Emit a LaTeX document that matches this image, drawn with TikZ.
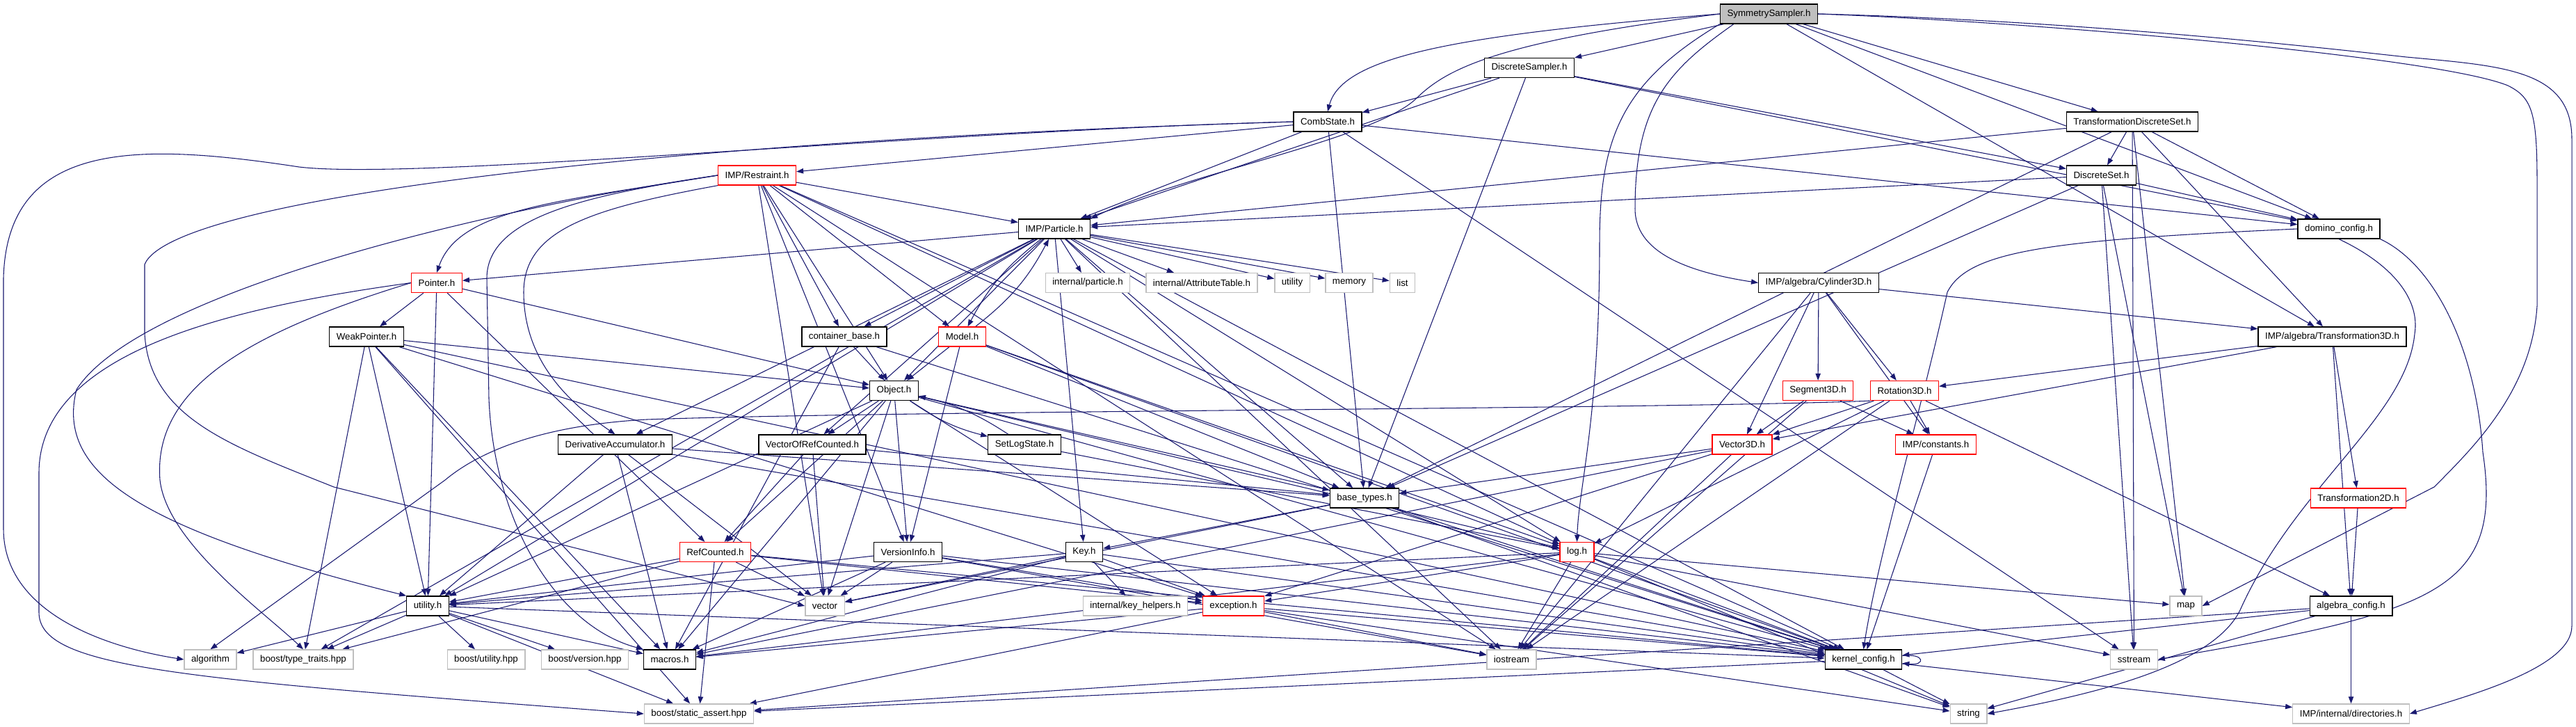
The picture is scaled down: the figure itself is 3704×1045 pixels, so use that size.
\documentclass[tikz,border=0pt]{standalone}
\usepackage{fontspec}
\setmainfont{Liberation Sans}
\usetikzlibrary{arrows.meta}
\definecolor{edgec}{HTML}{191970}
\definecolor{grayb}{HTML}{BFBFBF}
\pgfdeclarelayer{bg}
\pgfsetlayers{bg,main}
\begin{document}
\begin{tikzpicture}[x=0.75pt,y=-0.75pt,
  nd/.style={draw=black,line width=1pt,fill=white,inner xsep=7.5pt,inner ysep=0pt,minimum height=21pt,font=\fontsize{10}{12}\selectfont},
  rd/.style={nd,draw=red},
  gd/.style={nd,draw=grayb},
  e/.style={draw=edgec,line width=0.8pt,-{Triangle[length=7.5pt,width=5.5pt]}},
]
\useasboundingbox (0,0) rectangle (3704,1045);
% nodes
\node[nd,fill=grayb] (SS) at (2543.5,20) {SymmetrySampler.h};
\node[nd] (DSa) at (2199,97.5) {DiscreteSampler.h};
\node[nd] (CS) at (1909,175) {CombState.h};
\node[nd] (TDS) at (3066,175) {TransformationDiscreteSet.h};
\node[rd] (Res) at (1088.5,252) {IMP/Restraint.h};
\node[nd] (DSe) at (3021.5,252) {DiscreteSet.h};
\node[nd] (Par) at (1516,329) {IMP/Particle.h};
\node[nd] (dcfg) at (3363,329) {domino\_config.h};
\node[rd] (Ptr) at (628,406.5) {Pointer.h};
\node[gd] (ipart) at (1564,406.5) {internal/particle.h};
\node[gd] (iattr) at (1728,406.5) {internal/AttributeTable.h};
\node[gd] (stdutil) at (1858,406.5) {utility};
\node[gd] (mem) at (1940,406.5) {memory};
\node[gd] (lst) at (2016.5,406.5) {list};
\node[nd] (Cyl) at (2615,406.5) {IMP/algebra/Cylinder3D.h};
\node[nd] (WPtr) at (527,484) {WeakPointer.h};
\node[nd] (cont) at (1214,484) {container\_base.h};
\node[rd] (Model) at (1383.5,484) {Model.h};
\node[nd] (T3D) at (3353.5,484) {IMP/algebra/Transformation3D.h};
\node[nd] (Obj) at (1285.5,561.5) {Object.h};
\node[rd] (Seg) at (2614,561.5) {Segment3D.h};
\node[rd] (Rot) at (2738.5,561.5) {Rotation3D.h};
\node[nd] (DA) at (884.5,639) {DerivativeAccumulator.h};
\node[nd] (VoRC) at (1168,639) {VectorOfRefCounted.h};
\node[nd] (SLS) at (1473,639) {SetLogState.h};
\node[rd] (V3D) at (2505,639) {Vector3D.h};
\node[rd] (cst) at (2783.5,639) {IMP/constants.h};
\node[nd] (bt) at (1962,716) {base\_types.h};
\node[rd] (T2D) at (3391,716) {Transformation2D.h};
\node[rd] (RC) at (1028.5,793.5) {RefCounted.h};
\node[nd] (VI) at (1305.5,793.5) {VersionInfo.h};
\node[nd] (Key) at (1559,793.5) {Key.h};
\node[rd] (log) at (2267.5,793.5) {log.h};
\node[nd] (util) at (615,871) {utility.h};
\node[gd] (vec) at (1186,871) {vector};
\node[gd] (kh) at (1632.5,871) {internal/key\_helpers.h};
\node[rd] (exc) at (1773.5,871) {exception.h};
\node[gd] (map) at (3143,871) {map};
\node[nd] (acfg) at (3380.5,871) {algebra\_config.h};
\node[gd] (algo) at (302.5,948) {algorithm};
\node[gd] (btt) at (436,948) {boost/type\_traits.hpp};
\node[gd] (butil) at (699,948) {boost/utility.hpp};
\node[gd] (bver) at (841,948) {boost/version.hpp};
\node[nd] (mac) at (963,948) {macros.h};
\node[gd] (ios) at (2173.5,948) {iostream};
\node[nd] (kcfg) at (2679.5,948) {kernel\_config.h};
\node[gd] (sst) at (3068.5,948) {sstream};
\node[gd] (bsa) at (1005,1026) {boost/static\_assert.hpp};
\node[gd] (str) at (2830.5,1026) {string};
\node[gd] (dirs) at (3380.5,1026) {IMP/internal/directories.h};
\begin{pgfonlayer}{bg}
\fill[white] (0,0) rectangle (3704,1045);
\foreach \a/\b in {SS/DSa, SS/dcfg, SS/TDS, SS/T3D,
  DSa/CS, DSa/Par, DSa/bt, DSa/DSe, DSa/dcfg,
  CS/Res, CS/Par, CS/bt, CS/dcfg, CS/sst,
  TDS/DSe, TDS/dcfg, TDS/Par, TDS/bt, TDS/map, TDS/sst, TDS/T3D,
  DSe/dcfg, DSe/Par, DSe/bt, DSe/map, DSe/sst,
  Res/Par, Res/Model, Res/cont, Res/Obj, Res/VI, Res/log, Res/kcfg, Res/ios, Res/vec,
  Par/ipart, Par/iattr, Par/stdutil, Par/mem, Par/lst, Par/cont, Par/Obj, Par/VoRC, Par/DA, Par/Ptr, Par/bt, Par/Key, Par/log, Par/ios, Par/kcfg, Par/util, Par/btt,
  Model/Obj, Model/bt, Model/log, Model/kcfg, Model/VI,
  cont/Obj, cont/mac, cont/kcfg,
  Obj/RC, Obj/VoRC, Obj/VI, Obj/exc, Obj/log, Obj/mac, Obj/kcfg, Obj/vec, Obj/util, Obj/bt,
  SLS/log,
  Ptr/WPtr, Ptr/Obj, Ptr/RC, Ptr/util,
  WPtr/Obj, WPtr/util, WPtr/btt, WPtr/bsa, WPtr/mac, WPtr/exc, WPtr/kcfg,
  DA/util, DA/mac, DA/vec, DA/kcfg, DA/bt,
  VoRC/RC, VoRC/vec, VoRC/bt,
  RC/exc, RC/vec, RC/util, RC/btt, RC/bsa, RC/kcfg,
  VI/util, VI/vec, VI/mac, VI/exc, VI/kcfg, VI/ios,
  Key/kh, Key/exc, Key/vec, Key/util, Key/mac, Key/kcfg,
  bt/Key, bt/vec, bt/kcfg, bt/str,
  log/exc, log/mac, log/ios, log/kcfg, log/str, log/sst, log/map, log/util,
  exc/mac, exc/bsa, exc/kcfg, exc/ios, exc/str,
  util/algo, util/btt, util/butil, util/bver, util/mac, util/kcfg, util/bsa,
  kcfg/bsa, kcfg/str, kcfg/dirs,
  acfg/kcfg, acfg/bsa, acfg/str, acfg/dirs,
  Cyl/V3D, Cyl/Seg, Cyl/Rot, Cyl/cst, Cyl/T3D, Cyl/ios,
  Seg/V3D, Seg/cst, Seg/ios,
  Rot/V3D, Rot/cst, Rot/log, Rot/ios, Rot/acfg,
  V3D/bt, V3D/ios, V3D/exc, V3D/mac,
  cst/kcfg,
  T3D/Rot, T3D/V3D, T3D/T2D, T3D/acfg,
  T2D/acfg}
  \draw[e] (\a) -- (\b);
% curved edges
\draw[e] (SS.west) .. controls (2100,50) and (1930,80) .. (CS.north);
\draw[e] (SS.west) .. controls (2150,60) and (2080,100) .. (2038,140) .. controls (1980,200) and (1700,250) .. (Par.north east);
\draw[e] (SS.south west) .. controls (2330,120) and (2300,200) .. (2300,350) .. controls (2300,600) and (2270,700) .. (log.north);
\draw[e] ([xshift=15pt]SS.south west) .. controls (2400,100) and (2351,150) .. (2351,300) .. controls (2351,360) and (2420,390) .. (Cyl.west);
\draw[e] (SS.east) .. controls (2900,30) and (3500,80) .. (3606,123) .. controls (3640,140) and (3648,160) .. (3648,260) -- (3648,440) .. controls (3640,560) and (3560,640) .. (3500,700) -- (map.east);
\draw[e] (SS.east) .. controls (3000,30) and (3350,70) .. (3460,82) .. controls (3600,95) and (3698,100) .. (3698,200) -- (3698,900) .. controls (3698,960) and (3550,1000) .. (dirs.east);
\draw[e] (CS.west) .. controls (1300,190) and (600,260) .. (430,240) .. controls (200,205) and (10,200) .. (5,400) -- (5,760) .. controls (5,880) and (150,930) .. (algo.west);
\draw[e] (CS.west) .. controls (1000,200) and (250,280) .. (208,380) -- (208,480) .. controls (215,600) and (330,640) .. (480,700) -- (vec.west);
\draw[e] (Res.west) .. controls (700,300) and (200,420) .. (110,560) .. controls (80,680) and (200,760) .. (util.north west);
\draw[e] (Res.west) .. controls (800,290) and (660,300) .. (Ptr.north);
\draw[e] (Res.south west) .. controls (850,300) and (753,330) .. (753,420) .. controls (753,520) and (820,580) .. (DA.north);
\draw[e] (Res.west) .. controls (850,280) and (700,310) .. (700,400) -- (703,573) .. controls (710,750) and (800,900) .. (mac.north west);
\draw[e] (Ptr.west) .. controls (350,440) and (56,500) .. (56,680) -- (56,880) .. controls (56,960) and (250,975) .. (bsa.west);
\draw[e] (Ptr.west) .. controls (350,480) and (220,560) .. (230,690) .. controls (240,780) and (380,880) .. (btt.north);
\draw[e] (Rot.south west) .. controls (2400,588) and (1300,590) .. (930,603) .. controls (800,610) and (700,640) .. (640,690) -- (algo.north);
\draw[e] (dcfg.west) .. controls (2950,345) and (2830,360) .. (2800,420) .. controls (2760,600) and (2700,800) .. (kcfg.north);
\draw[e] (dcfg.south east) .. controls (3500,380) and (3560,500) .. (3570,650) .. controls (3600,850) and (3500,880) .. (sst.east);
\draw[e] (dcfg.south) .. controls (3440,380) and (3480,430) .. (3472,480) .. controls (3460,600) and (3300,700) .. (3221,877) .. controls (3180,960) and (3000,1000) .. (str.east);
\draw[e] (Par) to[bend right=12] (Model);
\draw[e] (Model) to[bend right=12] (Par);
\draw[e] (Obj) to[bend right=10] (SLS);
\draw[e] (SLS) to[bend right=10] (Obj);
\draw[e] ([yshift=4pt]kcfg.east) .. controls +(25pt,3pt) and +(25pt,-3pt) .. ([yshift=-4pt]kcfg.east);
\end{pgfonlayer}
\end{tikzpicture}
\end{document}
